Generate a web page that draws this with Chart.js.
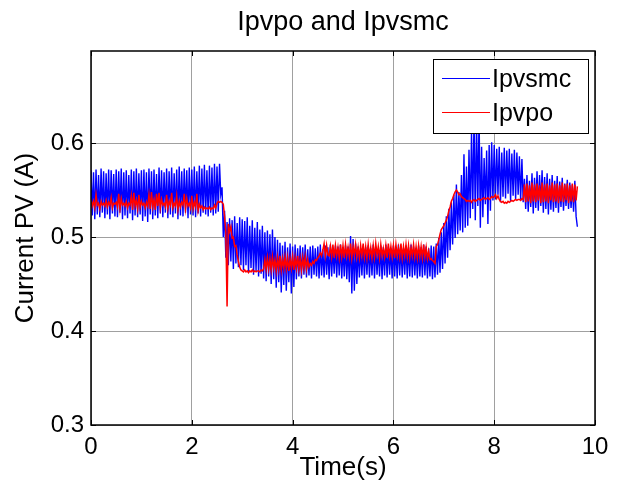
<!DOCTYPE html>
<html>
<head>
<meta charset="utf-8">
<title>Ipvpo and Ipvsmc</title>
<script src="https://cdn.jsdelivr.net/npm/chart.js@4.4.1/dist/chart.umd.min.js"></script>
<style>
  html, body { margin: 0; padding: 0; background: #fff; }
  canvas { display: block; }
</style>
</head>
<body>
<canvas id="pvChart" width="620" height="495"></canvas>
<script>
// sample step of the simulation (s)
const dt = 0.025;

// Ipvsmc, 20 samples per row (0.5 s)
const ipvsmc = [
  0.571,0.523,0.569,0.519,0.572,0.524,0.566,0.521,0.573,0.526,0.570,0.520,0.568,0.524,0.572,0.519,0.571,0.525,0.567,0.522,
  0.572,0.521,0.570,0.526,0.573,0.519,0.569,0.523,0.571,0.520,0.566,0.525,0.572,0.518,0.570,0.523,0.573,0.521,0.568,0.524,
  0.571,0.517,0.572,0.522,0.569,0.516,0.573,0.524,0.570,0.519,0.572,0.523,0.567,0.520,0.574,0.525,0.571,0.521,0.569,0.526,
  0.573,0.520,0.570,0.524,0.574,0.521,0.568,0.525,0.572,0.519,0.575,0.523,0.570,0.522,0.573,0.526,0.571,0.520,0.574,0.524,
  0.572,0.523,0.575,0.521,0.570,0.525,0.576,0.522,0.573,0.526,0.577,0.524,0.571,0.522,0.576,0.526,0.574,0.523,0.578,0.525,
  0.575,0.527,0.578,0.545,0.553,0.500,0.528,0.478,0.516,0.470,0.520,0.474,0.518,0.466,0.522,0.472,0.515,0.468,0.521,0.470,
  0.519,0.465,0.517,0.470,0.521,0.462,0.512,0.467,0.518,0.460,0.510,0.464,0.516,0.458,0.508,0.461,0.512,0.456,0.505,0.453,
  0.507,0.458,0.503,0.450,0.508,0.455,0.500,0.446,0.497,0.452,0.494,0.441,0.491,0.449,0.495,0.443,0.489,0.452,0.493,0.440,
  0.490,0.447,0.492,0.455,0.488,0.458,0.491,0.456,0.489,0.460,0.492,0.457,0.487,0.459,0.490,0.456,0.491,0.460,0.488,0.458,
  0.490,0.456,0.492,0.459,0.487,0.457,0.491,0.460,0.489,0.455,0.492,0.458,0.488,0.461,0.491,0.457,0.490,0.459,0.492,0.456,
  0.489,0.458,0.491,0.455,0.490,0.452,0.501,0.440,0.498,0.443,0.493,0.450,0.490,0.457,0.488,0.459,0.491,0.456,0.489,0.460,
  0.491,0.457,0.488,0.459,0.492,0.456,0.490,0.460,0.487,0.458,0.491,0.455,0.489,0.459,0.492,0.457,0.490,0.460,0.488,0.456,
  0.491,0.458,0.489,0.456,0.492,0.459,0.490,0.457,0.488,0.460,0.491,0.456,0.489,0.458,0.492,0.457,0.490,0.459,0.488,0.456,
  0.491,0.458,0.489,0.457,0.492,0.459,0.490,0.456,0.488,0.458,0.491,0.455,0.490,0.457,0.493,0.460,0.499,0.462,0.505,0.466,
  0.515,0.472,0.522,0.478,0.530,0.486,0.537,0.492,0.545,0.499,0.556,0.503,0.548,0.507,0.566,0.505,0.588,0.510,0.575,0.512,
  0.593,0.520,0.612,0.530,0.628,0.518,0.625,0.533,0.630,0.510,0.596,0.521,0.584,0.535,0.592,0.514,0.598,0.528,0.601,0.539,
  0.598,0.540,0.594,0.545,0.596,0.537,0.590,0.543,0.595,0.541,0.592,0.546,0.594,0.538,0.589,0.544,0.593,0.540,0.590,0.545,
  0.586,0.539,0.583,0.537,0.562,0.530,0.566,0.527,0.560,0.532,0.568,0.525,0.563,0.531,0.570,0.528,0.566,0.533,0.571,0.526,
  0.564,0.530,0.568,0.524,0.562,0.529,0.566,0.527,0.560,0.531,0.565,0.526,0.559,0.532,0.563,0.528,0.557,0.533,0.561,0.530,
  0.558,0.531,0.556,0.527,0.560,0.522,0.511
];

// Ipvpo, same time base
const ipvpo = [
  0.540,0.533,0.538,0.531,0.545,0.534,0.536,0.530,0.538,0.534,0.536,0.533,0.539,0.532,0.537,0.534,0.542,0.531,0.536,0.535,
  0.537,0.532,0.546,0.530,0.541,0.534,0.536,0.533,0.538,0.531,0.536,0.534,0.544,0.529,0.547,0.533,0.539,0.530,0.545,0.532,
  0.538,0.534,0.536,0.531,0.537,0.533,0.545,0.530,0.548,0.532,0.540,0.529,0.546,0.533,0.547,0.531,0.540,0.534,0.536,0.532,
  0.545,0.530,0.538,0.534,0.547,0.531,0.536,0.533,0.544,0.529,0.538,0.532,0.537,0.534,0.546,0.530,0.541,0.533,0.536,0.531,
  0.544,0.530,0.537,0.532,0.546,0.528,0.535,0.531,0.533,0.529,0.532,0.530,0.531,0.530,0.532,0.529,0.531,0.530,0.534,0.531,
  0.536,0.538,0.537,0.538,0.537,0.535,0.522,0.505,0.426,0.514,0.506,0.511,0.499,0.500,0.490,0.491,0.481,0.474,0.468,0.465,
  0.464,0.463,0.465,0.463,0.464,0.462,0.464,0.463,0.465,0.463,0.464,0.463,0.464,0.464,0.463,0.465,0.464,0.466,0.476,0.466,
  0.478,0.466,0.477,0.465,0.479,0.467,0.476,0.464,0.478,0.466,0.480,0.465,0.477,0.467,0.479,0.466,0.478,0.464,0.477,0.467,
  0.479,0.465,0.478,0.467,0.480,0.466,0.477,0.465,0.478,0.467,0.479,0.466,0.476,0.468,0.472,0.470,0.474,0.472,0.476,0.475,
  0.478,0.480,0.483,0.480,0.486,0.493,0.480,0.491,0.481,0.480,0.490,0.479,0.492,0.478,0.491,0.480,0.489,0.478,0.492,0.479,
  0.491,0.478,0.492,0.480,0.489,0.479,0.493,0.478,0.490,0.481,0.492,0.479,0.489,0.478,0.491,0.480,0.493,0.479,0.490,0.478,
  0.492,0.480,0.489,0.478,0.491,0.479,0.493,0.481,0.490,0.478,0.492,0.480,0.488,0.479,0.491,0.478,0.493,0.480,0.490,0.479,
  0.491,0.478,0.492,0.480,0.489,0.479,0.493,0.478,0.490,0.480,0.492,0.479,0.491,0.478,0.489,0.480,0.492,0.479,0.490,0.478,
  0.491,0.479,0.490,0.478,0.492,0.479,0.489,0.477,0.485,0.476,0.477,0.475,0.474,0.472,0.490,0.492,0.497,0.503,0.508,0.510,
  0.512,0.515,0.518,0.522,0.528,0.532,0.538,0.541,0.545,0.548,0.550,0.548,0.545,0.546,0.543,0.542,0.541,0.540,0.538,0.539,
  0.538,0.539,0.537,0.539,0.540,0.538,0.539,0.540,0.541,0.539,0.540,0.541,0.542,0.540,0.541,0.542,0.540,0.541,0.543,0.542,
  0.543,0.545,0.541,0.544,0.540,0.538,0.537,0.538,0.536,0.537,0.536,0.538,0.537,0.538,0.539,0.538,0.539,0.540,0.539,0.540,
  0.540,0.539,0.541,0.540,0.556,0.537,0.557,0.538,0.555,0.536,0.558,0.538,0.556,0.537,0.557,0.539,0.555,0.536,0.558,0.537,
  0.556,0.538,0.557,0.536,0.555,0.539,0.558,0.537,0.556,0.538,0.557,0.536,0.555,0.538,0.558,0.537,0.556,0.539,0.557,0.536,
  0.555,0.538,0.557,0.537,0.556,0.539,0.554
];

const xTicks = [0, 2, 4, 6, 8, 10];
const xTickLabels = ['0', '2', '4', '6', '8', '10'];
const yTicks = [0.3, 0.4, 0.5, 0.6];
const yTickLabels = ['0.3', '0.4', '0.5', '0.6'];

const FONT = "'Liberation Sans', Arial, Helvetica, sans-serif";

const toPoints = (values) => values.map((v, i) => ({ x: i * dt, y: v }));

// MATLAB style box, inward ticks, title, axis labels and legend
const matlabFrame = {
  id: 'matlabFrame',
  afterDatasetsDraw(chart) {
    const { ctx, chartArea: a, scales } = chart;
    ctx.save();

    ctx.strokeStyle = '#000';
    ctx.lineWidth = 1;
    const tick = 5;
    ctx.beginPath();
    xTicks.forEach(v => {
      const px = Math.round(scales.x.getPixelForValue(v)) + 0.5;
      ctx.moveTo(px, a.bottom); ctx.lineTo(px, a.bottom - tick);
      ctx.moveTo(px, a.top); ctx.lineTo(px, a.top + tick);
    });
    yTicks.forEach(v => {
      const py = Math.round(scales.y.getPixelForValue(v)) + 0.5;
      ctx.moveTo(a.left, py); ctx.lineTo(a.left + tick, py);
      ctx.moveTo(a.right, py); ctx.lineTo(a.right - tick, py);
    });
    ctx.stroke();

    ctx.lineWidth = 1.5;
    ctx.strokeRect(a.left, a.top, a.right - a.left, a.bottom - a.top);

    // legend (drawn over the data like MATLAB's)
    const datasets = chart.data.datasets;
    const lx = 433.5, ly = 59.5, lw = 155, lh = 74;
    ctx.fillStyle = '#fff';
    ctx.fillRect(lx, ly, lw, lh);
    ctx.lineWidth = 1;
    ctx.strokeStyle = '#000';
    ctx.strokeRect(lx, ly, lw, lh);
    ctx.font = '25px ' + FONT;
    ctx.textBaseline = 'alphabetic';
    ctx.textAlign = 'left';
    datasets.forEach((ds, i) => {
      const y = 78 + i * 34;
      ctx.strokeStyle = ds.borderColor;
      ctx.lineWidth = 1;
      ctx.beginPath();
      ctx.moveTo(442, y + 0.5);
      ctx.lineTo(490, y + 0.5);
      ctx.stroke();
      ctx.fillStyle = '#000';
      ctx.fillText(ds.label, 492, y + 9);
    });

    // title and axis labels
    const cx = (a.left + a.right) / 2;
    ctx.fillStyle = '#000';
    ctx.textAlign = 'center';
    ctx.font = '27px ' + FONT;
    ctx.fillText('Ipvpo and Ipvsmc', cx, 30);

    ctx.font = '26px ' + FONT;
    ctx.fillText('Time(s)', cx, 475);

    ctx.translate(26, (a.top + a.bottom) / 2);
    ctx.rotate(-Math.PI / 2);
    ctx.textBaseline = 'middle';
    ctx.fillText('Current PV (A)', 0, 0);

    ctx.restore();
  }
};

new Chart(document.getElementById('pvChart'), {
  type: 'line',
  data: {
    datasets: [
      { label: 'Ipvsmc', data: toPoints(ipvsmc), borderColor: '#0000ff', borderWidth: 1.4, order: 1 },
      { label: 'Ipvpo', data: toPoints(ipvpo), borderColor: '#ff0000', borderWidth: 1.5, order: 0 }
    ]
  },
  options: {
    responsive: false,
    devicePixelRatio: 1,
    animation: false,
    parsing: false,
    elements: {
      point: { radius: 0 },
      line: { tension: 0, fill: false }
    },
    layout: { padding: { top: 51, right: 25, left: 0, bottom: 0 } },
    plugins: {
      legend: { display: false },
      title: { display: false },
      tooltip: { enabled: false }
    },
    scales: {
      x: {
        type: 'linear',
        min: 0,
        max: 10,
        afterBuildTicks: (s) => { s.ticks = xTicks.map(v => ({ value: v })); },
        afterFit: (s) => { s.height = 70; },
        grid: { color: '#a0a0a0', lineWidth: 1, drawTicks: false },
        border: { display: false },
        ticks: {
          autoSkip: false,
          maxRotation: 0,
          padding: 8,
          color: '#000',
          font: { family: FONT, size: 24 },
          callback: (v, i) => xTickLabels[i]
        }
      },
      y: {
        type: 'linear',
        min: 0.3,
        max: 0.698,
        afterBuildTicks: (s) => { s.ticks = yTicks.map(v => ({ value: v })); },
        afterFit: (s) => { s.width = 91; },
        grid: { color: '#a0a0a0', lineWidth: 1, drawTicks: false },
        border: { display: false },
        ticks: {
          padding: 7,
          color: '#000',
          font: { family: FONT, size: 24 },
          callback: (v, i) => yTickLabels[i]
        }
      }
    }
  },
  plugins: [matlabFrame]
});
</script>
</body>
</html>
